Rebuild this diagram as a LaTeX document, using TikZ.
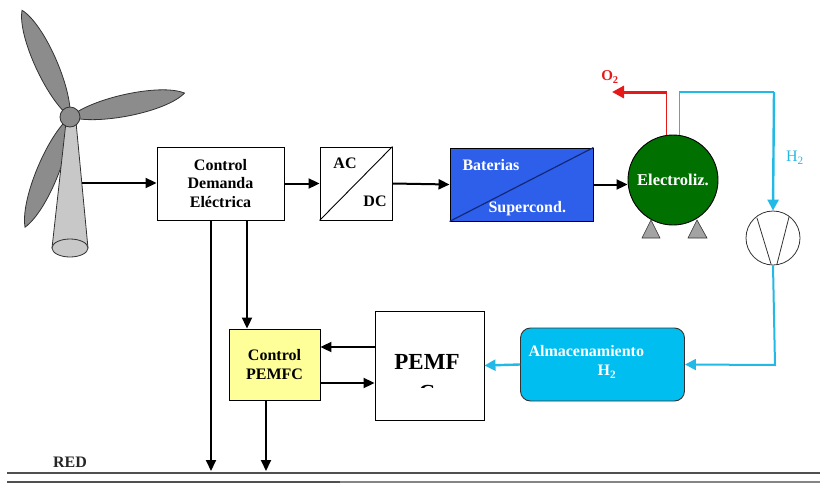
\documentclass[tikz,border=0pt]{standalone}
\usepackage{fontspec}
\setmainfont{Liberation Serif}
\usetikzlibrary{arrows.meta}
\definecolor{batblue}{RGB}{45,95,235}
\definecolor{batline}{RGB}{20,40,120}
\definecolor{elgreen}{RGB}{0,112,0}
\definecolor{almcyan}{RGB}{0,190,240}
\definecolor{h2cyan}{RGB}{35,185,230}
\definecolor{o2red}{RGB}{230,25,25}
\definecolor{ctlyellow}{RGB}{255,255,153}
\definecolor{bladegrey}{RGB}{140,140,140}
\definecolor{towergrey}{RGB}{200,200,200}
\definecolor{outline}{RGB}{50,50,50}
\definecolor{redline}{RGB}{80,80,80}
\tikzset{
  boldtext/.style={font=\fontsize{16}{18.5}\selectfont\bfseries},
  block/.style={draw=black, line width=0.9pt, inner sep=0pt, align=center, boldtext},
  flow/.style={line width=2pt, -{Triangle[length=11pt,width=10pt]}},
  cyanflow/.style={draw=h2cyan, line width=2.4pt, -{Triangle[length=11pt,width=11pt]}},
  cyanpipe/.style={draw=h2cyan, line width=1.6pt},
  blade/.style={fill=bladegrey, draw=outline, line width=0.8pt},
  foot/.style={fill=bladegrey!80, draw=outline, line width=0.6pt},
}
\begin{document}
\begin{tikzpicture}[x=1pt, y=-1pt]
\useasboundingbox (0,0) rectangle (820,490);

% ---- wind turbine ----
\coordinate (hub) at (70,117);
% lower blade sits behind the tower
\begin{scope}[shift={(hub)}, rotate=247.8]
  \draw[blade] (0pt,0pt) .. controls (25pt,14pt) and (95pt,15pt) .. (119pt,0pt)
                          .. controls (95pt,-15pt) and (25pt,-14pt) .. (0pt,0pt);
\end{scope}
% tower and its base
\draw[fill=towergrey, draw=outline, line width=0.8pt]
  (66,122) -- (52,248) -- (88,248) -- (76,122) -- cycle;
\draw[fill=towergrey, draw=outline, line width=0.8pt] (70,248) ellipse (18pt and 9pt);
% upper and right blades
\begin{scope}[shift={(hub)}, rotate=114.2]
  \draw[blade] (0pt,0pt) .. controls (25pt,14pt) and (95pt,15pt) .. (117pt,0pt)
                          .. controls (95pt,-15pt) and (25pt,-14pt) .. (0pt,0pt);
\end{scope}
\begin{scope}[shift={(hub)}, rotate=11.8]
  \draw[blade] (0pt,0pt) .. controls (25pt,14pt) and (95pt,15pt) .. (117pt,0pt)
                          .. controls (95pt,-15pt) and (25pt,-14pt) .. (0pt,0pt);
\end{scope}
\draw[blade] (hub) circle (10pt);
\coordinate (tw) at (82,183);

% ---- blocks ----
\node[block, minimum width=127pt, minimum height=73pt] (cde) at (220.5,183.5)
  {Control\\Demanda\\Eléctrica};
\node[block, minimum width=72pt, minimum height=73pt] (acdc) at (356,183.5) {};
\draw[line width=0.9pt] (acdc.south west) -- (acdc.north east);
\node[boldtext] (ac) at (345,163) {AC};
\node[boldtext] (dc) at (375,201) {DC};

\node[block, fill=batblue, minimum width=143pt, minimum height=73pt] (bat) at (521.5,184.5) {};
\draw[batline, line width=1.2pt] (bat.south west) -- (bat.north east);
\node[anchor=west, text=white, boldtext] (batt) at (459,165) {Baterias};
\node[anchor=west, text=white, boldtext] (supc) at (485,209) {Supercond.};

\node[circle, draw=black, line width=0.9pt, fill=elgreen, minimum size=90pt, inner sep=0pt,
      text=white, font=\fontsize{16.5}{18}\selectfont\bfseries] (elec) at (673,180) {Electroliz.};
\draw[foot] (642,238) -- (660,238) -- (651,220) -- cycle;
\draw[foot] (688,238) -- (707,238) -- (697,220) -- cycle;

\node[circle, draw=outline, line width=0.8pt, minimum size=54pt, inner sep=0pt] (valve) at (773,238) {};
\draw[outline, line width=0.8pt] (757,218) -- (771,264);
\draw[outline, line width=0.8pt] (789,217) -- (777,264);

\node[block, draw=black!80, fill=almcyan, rounded corners=10pt, minimum width=164pt,
      minimum height=73pt] (alm) at (602.5,364.5) {};
\node[anchor=west, text=white, boldtext] (almt) at (525,351) {Almacenamiento};
\node[text=white, boldtext] (almh) at (607,372) {H\textsubscript{2}};

\node[block, minimum width=109pt, minimum height=109pt] (pem) at (429.5,365.5) {};
\node[font=\fontsize{23}{26}\selectfont\bfseries] (pemt) at (427,362) {PEMF};
\begin{scope}
  \clip (400,370) rectangle (460,387.5);
  \node[font=\fontsize{23}{26}\selectfont\bfseries] (pemc) at (427,393) {C};
\end{scope}

\node[block, fill=ctlyellow, minimum width=91pt, minimum height=71pt] (cp) at (274.5,364.5)
  {Control\\PEMFC};

% ---- grid (RED) ----
\coordinate (redL) at (7,473);
\coordinate (redR) at (820,473);
\coordinate (redL2) at (7,482);
\coordinate (redM2) at (340,482);
\coordinate (redR2) at (820,482);
\draw[redline, line width=1.3pt] (redL) -- (redR);
\draw[redline, line width=1.3pt] (redL2) -- (redM2);
\draw[redline!70, line width=1.3pt] (redM2) -- (redR2);
\node[boldtext, text=black!85] (red) at (70,462) {RED};

% ---- power flow ----
\draw[flow] (tw) -- (cde.west |- tw);
\draw[flow] (cde.east) -- (acdc.west);
\draw[flow] (acdc.east) -- (bat.west);
\draw[flow] (bat.east) -- (elec.west |- bat.east);

\coordinate (d1) at (211,471);
\coordinate (d2) at (247,300);
\coordinate (d3) at (266,471);
\draw[flow] (cde.south -| d1) -- (d1);
\draw[flow] (cde.south -| d2) -- (cp.north -| d2);
\draw[flow] (cp.south -| d3) -- (d3);

\coordinate (fb) at (0,347);
\coordinate (fw) at (0,383);
\draw[flow] (pem.west |- fb) -- (cp.east |- fb);
\draw[flow] (cp.east |- fw) -- (pem.west |- fw);

% ---- gases ----
\coordinate (o2up) at (667,92);
\coordinate (o2end) at (612,92);
\draw[o2red, line width=1.2pt] (elec.98) -- (elec.98 |- o2up);
\draw[o2red, line width=3pt, -{Triangle[length=12pt,width=12pt]}] (o2up) -- (o2end);
\node[text=o2red, font=\fontsize{15}{17}\selectfont\bfseries] (o2) at (610,77) {O\textsubscript{2}};

\coordinate (h2up) at (684,92);
\coordinate (h2corner) at (774,92);
\draw[cyanpipe] (elec.82) -- (elec.82 |- h2up) -- (h2corner);
\draw[cyanflow] (h2corner) -- (valve.north);
\node[text=h2cyan, font=\fontsize{16}{18}\selectfont] (h2) at (795,158) {H\textsubscript{2}};

\coordinate (vdown) at (775,365);
\draw[draw=h2cyan, line width=2pt, -{Triangle[length=11pt,width=11pt]}]
  (valve.south) -- (vdown) -- (alm.east);
\draw[cyanflow] (alm.west) -- (pem.east);
\end{tikzpicture}
\end{document}
